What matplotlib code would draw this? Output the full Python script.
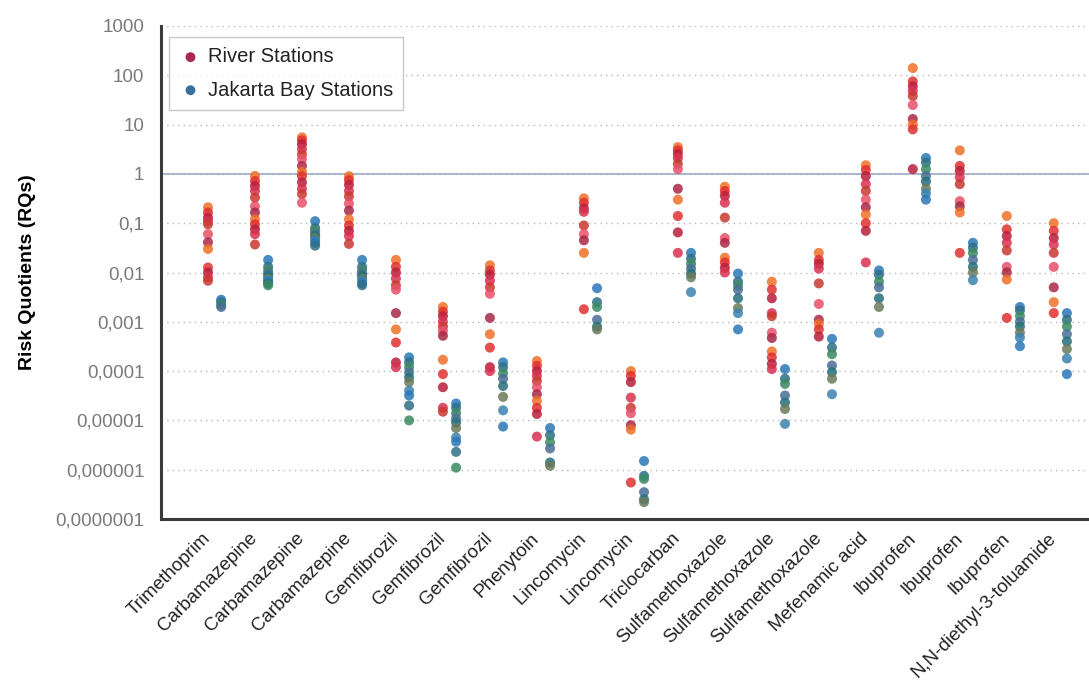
import matplotlib
matplotlib.use("Agg")
import matplotlib.pyplot as plt
from matplotlib.ticker import FixedLocator, NullLocator

plt.rcParams['font.family'] = ['Liberation Sans', 'DejaVu Sans']

categories = ["Trimethoprim", "Carbamazepine", "Carbamazepine", "Carbamazepine",
              "Gemfibrozil", "Gemfibrozil", "Gemfibrozil", "Phenytoin",
              "Lincomycin", "Lincomycin", "Triclocarban", "Sulfamethoxazole",
              "Sulfamethoxazole", "Sulfamethoxazole", "Mefenamic acid",
              "Ibuprofen", "Ibuprofen", "Ibuprofen", "N,N-diethyl-3-toluamide"]

river = [
    [0.21, 0.165, 0.13, 0.11, 0.095, 0.06, 0.041, 0.03, 0.0126, 0.01, 0.008, 0.0068],
    [0.91, 0.72, 0.57, 0.45, 0.33, 0.22, 0.165, 0.12, 0.095, 0.075, 0.06, 0.037],
    [5.5, 4.8, 4.0, 3.2, 2.5, 2.0, 1.45, 1.1, 0.9, 0.67, 0.5, 0.39, 0.26],
    [0.9, 0.75, 0.6, 0.45, 0.35, 0.25, 0.18, 0.12, 0.09, 0.07, 0.055, 0.038],
    [0.018, 0.013, 0.01, 0.0075, 0.0055, 0.0045, 0.0015, 0.0007, 0.00038, 0.00015, 0.00012],
    [0.002, 0.0016, 0.0013, 0.001, 0.0008, 0.00065, 0.00052, 0.00017, 0.000087, 0.000047, 0.000018, 0.000015],
    [0.014, 0.011, 0.009, 0.0068, 0.005, 0.0037, 0.0012, 0.00056, 0.0003, 0.00012, 0.0001],
    [0.00016, 0.000128, 0.0001, 0.00008, 0.000063, 0.000047, 0.000034, 0.000025, 0.000018, 0.0000135, 0.0000047],
    [0.32, 0.26, 0.2, 0.17, 0.09, 0.06, 0.045, 0.025, 0.0018],
    [0.0001, 0.00008, 0.00006, 0.000029, 0.000018, 0.000014, 0.000008, 0.0000065, 0.00000055],
    [3.5, 3.0, 2.5, 2.1, 1.6, 1.25, 0.5, 0.3, 0.14, 0.065, 0.025],
    [0.55, 0.45, 0.36, 0.26, 0.13, 0.05, 0.04, 0.02, 0.016, 0.0125, 0.01],
    [0.0065, 0.0045, 0.003, 0.0015, 0.0013, 0.0006, 0.00047, 0.00025, 0.00019, 0.00014, 0.00011],
    [0.025, 0.018, 0.015, 0.012, 0.006, 0.0023, 0.0011, 0.0009, 0.0007, 0.0005],
    [1.5, 1.2, 0.9, 0.62, 0.45, 0.3, 0.21, 0.15, 0.1, 0.07, 0.016],
    [140, 75, 60, 48, 38, 25, 13, 10, 8, 1.25],
    [3.0, 1.45, 1.15, 0.85, 0.62, 0.28, 0.22, 0.165, 0.025],
    [0.14, 0.075, 0.055, 0.04, 0.028, 0.013, 0.01, 0.0072, 0.0012],
    [0.1, 0.07, 0.05, 0.037, 0.025, 0.013, 0.005, 0.0025, 0.0015],
]

bay = [
    [0.0028, 0.0025, 0.0022, 0.002],
    [0.018, 0.013, 0.011, 0.0095, 0.0085, 0.0075, 0.007, 0.0065, 0.006, 0.0055],
    [0.11, 0.08, 0.07, 0.06, 0.055, 0.05, 0.045, 0.04, 0.035],
    [0.018, 0.013, 0.011, 0.0095, 0.0085, 0.0075, 0.0068, 0.006, 0.0055],
    [0.00019, 0.00015, 0.00012, 0.000095, 0.000075, 0.00006, 0.00004, 0.000032, 0.00002, 0.00001],
    [2.2e-5, 1.8e-5, 1.4e-5, 1.1e-5, 9e-6, 7e-6, 4.5e-6, 3.7e-6, 2.3e-6, 1.1e-6],
    [0.00015, 0.00012, 0.00009, 0.00007, 0.00005, 0.00003, 0.000016, 0.0000075],
    [7e-6, 5e-6, 3.6e-6, 2.7e-6, 1.4e-6, 1.2e-6],
    [0.0048, 0.0025, 0.002, 0.0011, 0.0008, 0.0007],
    [1.5e-6, 7.5e-7, 6.5e-7, 3.5e-7, 2.5e-7, 2.2e-7],
    [0.025, 0.019, 0.015, 0.012, 0.0095, 0.008, 0.004],
    [0.0095, 0.0065, 0.0055, 0.0045, 0.003, 0.0019, 0.0015, 0.0007],
    [0.00011, 0.00007, 0.000055, 0.000032, 0.000023, 0.000017, 0.0000085],
    [0.00045, 0.0003, 0.00022, 0.00013, 0.000095, 0.00007, 0.000034],
    [0.011, 0.009, 0.0065, 0.005, 0.003, 0.002, 0.0006],
    [2.1, 1.7, 1.25, 0.9, 0.7, 0.5, 0.4, 0.3],
    [0.04, 0.032, 0.025, 0.018, 0.013, 0.01, 0.007],
    [0.002, 0.0017, 0.0013, 0.001, 0.0008, 0.0006, 0.00048, 0.00032],
    [0.0015, 0.0011, 0.0008, 0.00056, 0.0004, 0.00028, 0.00018, 0.000087],
]

ytick_values = [1e-7, 1e-6, 1e-5, 1e-4, 1e-3, 1e-2, 1e-1, 1, 10, 100, 1000]
ytick_labels = ["0,0000001", "0,000001", "0,00001", "0,0001", "0,001", "0,01",
                "0,1", "1", "10", "100", "1000"]

river_palette = ["#f07028", "#e03030", "#b8203c", "#d83050", "#c83a30", "#e8506a", "#a82848"]
bay_palette = ["#2a78b8", "#2f6f86", "#3a8a62", "#4a6f96", "#25707a", "#6a7a5a", "#3c82b0"]

fig = plt.figure(figsize=(10.89, 6.84), dpi=100)
ax = fig.add_axes([161 / 1089, (684 - 519) / 684, (1089 - 161) / 1089, (519 - 26) / 684])

r_off, b_off = -0.13, 0.15
for i, vals in enumerate(river):
    xs = [i + r_off] * len(vals)
    cols = [river_palette[j % len(river_palette)] for j in range(len(vals))]
    ax.scatter(xs, vals, s=52, c=cols, edgecolors='none', alpha=0.85, zorder=3)
for i, vals in enumerate(bay):
    xs = [i + b_off] * len(vals)
    cols = [bay_palette[j % len(bay_palette)] for j in range(len(vals))]
    ax.scatter(xs, vals, s=52, c=cols, edgecolors='none', alpha=0.85, zorder=3)

ax.set_yscale('log')
ax.set_ylim(1e-7, 1000)
ax.set_xlim(-1.13, 18.62)
ax.yaxis.set_major_locator(FixedLocator(ytick_values))
ax.yaxis.set_minor_locator(NullLocator())
ax.set_yticklabels(ytick_labels)
ax.tick_params(axis='y', length=0, pad=12, labelsize=13.5, labelcolor='#7a7a7a')

for v in ytick_values[1:]:
    ax.axhline(v, color='#b8b8b8', lw=1.0, ls=(0, (1, 3)), zorder=1)
ax.axhline(1, color='#a4b2c8', lw=1.3, zorder=2)

ax.set_xticks([i - 0.13 for i in range(len(categories))])
ax.set_xticklabels(categories, rotation=45, ha='right', va='center',
                   rotation_mode='anchor', fontsize=13.5, color='#222222')
ax.tick_params(axis='x', length=0, pad=12)

for side in ['top', 'right']:
    ax.spines[side].set_visible(False)
for side in ['left', 'bottom']:
    ax.spines[side].set_color('#3a3a3a')
    ax.spines[side].set_linewidth(2.2)

ax.set_ylabel("Risk Quotients (RQs)", fontsize=14, fontweight='bold', labelpad=14)

h1 = ax.scatter([], [], s=50, c='#a8284e', edgecolors='none')
h2 = ax.scatter([], [], s=50, c='#3a6f9e', edgecolors='none')
leg = ax.legend([h1, h2], ["River Stations", "Jakarta Bay Stations"],
                loc='upper left', bbox_to_anchor=(0.009, 0.977), fontsize=14.5,
                frameon=True, fancybox=False, edgecolor='#bbbbbb',
                handletextpad=0.3, borderpad=0.5, labelspacing=0.7,
                handlelength=1.1, borderaxespad=0)
leg.get_frame().set_linewidth(1.0)
for t in leg.get_texts():
    t.set_color('#222222')

fig.savefig("out.png", dpi=100)
